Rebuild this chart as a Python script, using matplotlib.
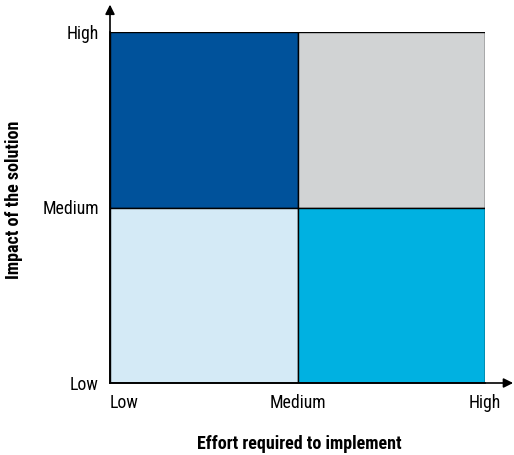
import matplotlib
matplotlib.use("Agg")
import matplotlib.pyplot as plt
from matplotlib import font_manager

# Quadrant grid: effort (x) vs impact (y)
x_levels = ["Low", "Medium", "High"]
y_levels = ["Low", "Medium", "High"]
x_pos = [0.0, 0.5, 1.0]
y_pos = [0.0, 0.5, 1.0]

# Each cell: left edge, bottom edge, width, height, colour
cell_x = [0.0, 0.5, 0.0, 0.5]
cell_y = [0.5, 0.5, 0.0, 0.0]
cell_w = [0.5, 0.5, 0.5, 0.5]
cell_h = [0.5, 0.5, 0.5, 0.5]
cell_colors = ["#00529B", "#D1D3D4", "#D4EAF6", "#00B1E1"]

x_title = "Effort required to implement"
y_title = "Impact of the solution"

names = {f.name for f in font_manager.fontManager.ttflist}
family = [f for f in ["Liberation Sans Narrow", "Roboto Condensed", "Liberation Sans"] if f in names] + ["DejaVu Sans"]
plt.rcParams["font.family"] = family

fig = plt.figure(figsize=(5.14, 4.55), dpi=100)
ax = fig.add_axes([110 / 514, 1 - 383 / 455, 375 / 514, 351 / 455])

ax.bar(cell_x, cell_h, width=cell_w, bottom=cell_y, align="edge",
       color=cell_colors, edgecolor="black", linewidth=1.0, zorder=2)

ax.set_xlim(0, 1)
ax.set_ylim(0, 1)
for s in ["top", "right"]:
    ax.spines[s].set_visible(False)
for s in ["left", "bottom"]:
    ax.spines[s].set_linewidth(1.2)
    ax.spines[s].set_zorder(3)

# Axis arrows extending past the plot area
ax.annotate("", xy=(1.075, 0), xytext=(0, 0), xycoords="axes fraction",
            arrowprops=dict(arrowstyle="-|>", color="black", lw=1.2,
                            mutation_scale=14, shrinkA=0, shrinkB=0),
            annotation_clip=False)
ax.annotate("", xy=(0, 1.078), xytext=(0, 0), xycoords="axes fraction",
            arrowprops=dict(arrowstyle="-|>", color="black", lw=1.2,
                            mutation_scale=14, shrinkA=0, shrinkB=0),
            annotation_clip=False)

ax.set_xticks([])
ax.set_yticks(y_pos)
ax.set_yticklabels(y_levels, fontsize=12.8)
ax.tick_params(axis="y", length=0, pad=8)

# x tick labels placed below the axis
x_align = ["left", "center", "center"]
for xp, lab, ha in zip(x_pos, x_levels, x_align):
    ax.text(xp, -0.058, lab, ha=ha, va="center", fontsize=12.8,
            transform=ax.get_xaxis_transform())

fig.text(299 / 514, 1 - 444 / 455, x_title, ha="center", va="center",
         fontsize=13, fontweight="bold")
fig.text(14 / 514, 1 - 200 / 455, y_title, ha="center", va="center",
         rotation=90, fontsize=13, fontweight="bold")

fig.savefig("out.png", dpi=100)
